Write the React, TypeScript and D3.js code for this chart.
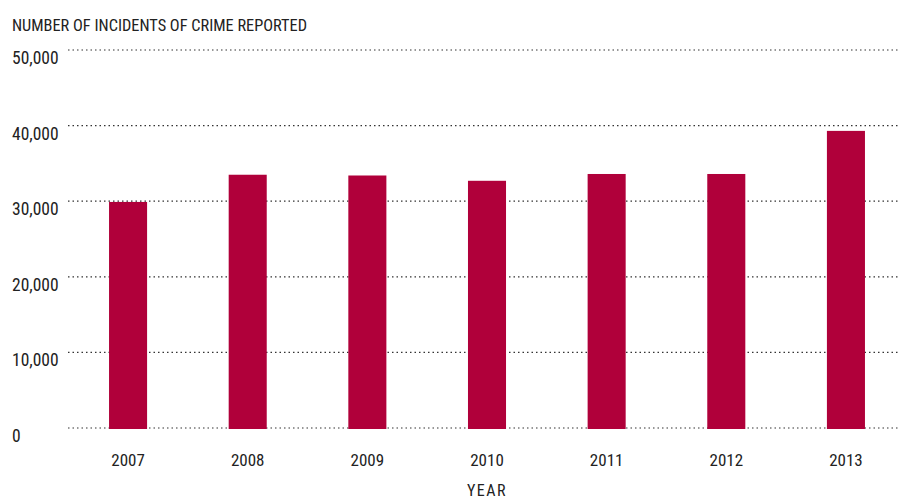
import { useEffect, useRef } from 'react';
import * as d3 from 'd3';

const years = ['2007', '2008', '2009', '2010', '2011', '2012', '2013'];
const incidents = [29900, 33500, 33400, 32700, 33600, 33600, 39300];
const yTicks = [0, 10000, 20000, 30000, 40000, 50000];

const FONT = "'Roboto Condensed', 'DejaVu Sans Condensed', 'Liberation Sans Narrow', Roboto, sans-serif";

export default function App() {
	const ref = useRef<SVGSVGElement | null>(null);

	useEffect(() => {
		if (!ref.current) return;
		const svg = d3.select(ref.current);
		svg.selectAll('*').remove();

		const left = 68;
		const right = 900;

		const y = d3.scaleLinear().domain([0, 50000]).range([428, 50]);
		const x = d3
			.scaleBand<string>()
			.domain(years)
			.range([left, 906])
			.paddingInner(0.682)
			.paddingOuter(0.343);

		// dotted gridlines behind bars
		svg
			.append('g')
			.selectAll('line')
			.data(yTicks)
			.join('line')
			.attr('x1', left)
			.attr('x2', right)
			.attr('y1', d => y(d))
			.attr('y2', d => y(d))
			.attr('stroke', '#333')
			.attr('stroke-width', 1.2)
			.attr('stroke-dasharray', '1.5,3');

		svg
			.append('g')
			.selectAll('text')
			.data(yTicks)
			.join('text')
			.attr('x', 12)
			.attr('y', d => y(d) + 14)
			.attr('font-family', FONT)
			.attr('font-size', 17.5)
			.attr('fill', '#222')
			.text(d => d3.format(',')(d));

		svg
			.append('g')
			.selectAll('rect')
			.data(incidents)
			.join('rect')
			.attr('x', (_, i) => x(years[i]) ?? 0)
			.attr('width', x.bandwidth())
			.attr('y', d => y(d))
			.attr('height', d => y(0) - y(d) + 1)
			.attr('fill', '#b0003a');

		svg
			.append('g')
			.selectAll('text')
			.data(years)
			.join('text')
			.attr('x', d => (x(d) ?? 0) + x.bandwidth() / 2)
			.attr('y', 466)
			.attr('text-anchor', 'middle')
			.attr('font-family', FONT)
			.attr('font-size', 17)
			.attr('fill', '#222')
			.text(d => d);

		svg
			.append('text')
			.attr('x', 12)
			.attr('y', 31)
			.attr('font-family', FONT)
			.attr('font-size', 17)
			.attr('fill', '#222')
			.attr('textLength', 295)
			.attr('lengthAdjust', 'spacingAndGlyphs')
			.text('NUMBER OF INCIDENTS OF CRIME REPORTED');

		svg
			.append('text')
			.attr('x', 487)
			.attr('y', 496)
			.attr('text-anchor', 'middle')
			.attr('font-family', FONT)
			.attr('font-size', 16)
			.attr('fill', '#222')
			.attr('letter-spacing', 1.5)
			.text('YEAR');
	}, []);

	return (
		<svg
			ref={ref}
			width={901}
			height={497}
			style={{ position: 'absolute', left: 0, top: 0, background: '#fff' }}
		/>
	);
}
